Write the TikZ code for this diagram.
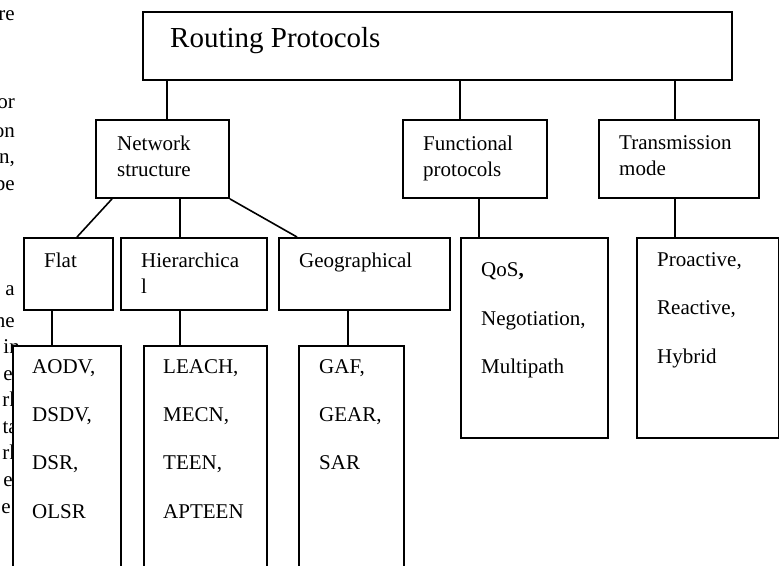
\documentclass[tikz,border=0pt]{standalone}
\usepackage{fontspec}
\setmainfont{Liberation Serif}
\begin{document}
\begin{tikzpicture}[x=1pt, y=-1pt,
    box/.style={draw, line width=1.9pt, fill=white, inner sep=0pt, anchor=north west},
    lbl/.style={inner sep=0pt, anchor=north west, align=left, font=\fontsize{21}{26}\selectfont},
    lst/.style={inner sep=0pt, anchor=north west, align=left, font=\fontsize{21}{48.3}\selectfont},
    bodytxt/.style={inner sep=0pt, anchor=base east, font=\fontsize{21}{26}\selectfont},
    link/.style={line width=1.6pt}]
    \useasboundingbox (0,0) rectangle (779,565);

    % text of the page behind the figure
    \node[bodytxt] (t1) at (15,20) {re};
    \node[bodytxt] (t2) at (15,108) {or};
    \node[bodytxt] (t3) at (15,137) {on};
    \node[bodytxt] (t4) at (15,163) {n,};
    \node[bodytxt] (t5) at (15,190) {be};
    \node[bodytxt] (t6) at (15,295) {a};
    \node[bodytxt] (t7) at (15,327) {he};
    \node[bodytxt] (t8) at (20,353) {in};
    \node[bodytxt] (t9) at (20,380) {er};
    \node[bodytxt] (t10) at (20,406) {rk};
    \node[bodytxt] (t11) at (18,433) {ta};
    \node[bodytxt] (t12) at (20,459) {rk};
    \node[bodytxt] (t13) at (20,486) {er};
    \node[bodytxt] (t14) at (11,513) {e};

    \node[box, minimum width=589, minimum height=68] (root) at (142,11) {};
    \node[inner sep=0pt, anchor=base west, font=\fontsize{29}{34}\selectfont]
        (rootT) at (170,47) {Routing Protocols};

    \node[box, minimum width=133, minimum height=78] (net) at (95,119) {};
    \node[box, minimum width=144, minimum height=78] (func) at (402,119) {};
    \node[box, minimum width=160, minimum height=78] (trans) at (598,119) {};
    \node[lbl] (netT) at (117,135.7) {Network\\structure};
    \node[lbl] (funcT) at (423,135.7) {Functional\\protocols};
    \node[lbl] (transT) at (619,135.7) {Transmission\\mode};

    \node[box, minimum width=89, minimum height=72] (flat) at (23,237) {};
    \node[box, minimum width=146, minimum height=72] (hier) at (120,237) {};
    \node[box, minimum width=171, minimum height=72] (geo) at (278,237) {};
    \node[lbl] (flatT) at (44,252.7) {Flat};
    \node[lbl] (hierT) at (141,252.7) {Hierarchica\\l};
    \node[lbl] (geoT) at (299,252.7) {Geographical};

    \node[box, minimum width=108, minimum height=260] (aodv) at (12,345) {};
    \node[box, minimum width=123, minimum height=260] (leach) at (143,345) {};
    \node[box, minimum width=105, minimum height=260] (gaf) at (298,345) {};
    \node[box, minimum width=147, minimum height=200] (qos) at (460,237) {};
    \node[box, minimum width=142, minimum height=200] (pro) at (636,237) {};
    \node[lst] (aodvT) at (32,359) {AODV,\\DSDV,\\DSR,\\OLSR};
    \node[lst] (leachT) at (163,359) {LEACH,\\MECN,\\TEEN,\\APTEEN};
    \node[lst] (gafT) at (319,359) {GAF,\\GEAR,\\SAR};
    \node[lst] (qosT) at (481,262.8) {QoS\textbf{,}\\Negotiation,\\Multipath};
    \node[lst] (proT) at (657,252.4) {Proactive,\\Reactive,\\Hybrid};

    \draw[link] ([xshift=25]root.south west) -- ([xshift=72]net.north west);
    \draw[link] ([xshift=318]root.south west) -- ([xshift=58]func.north west);
    \draw[link] ([xshift=533]root.south west) -- ([xshift=77]trans.north west);

    \draw[link] ([xshift=17]net.south west) -- ([xshift=54]flat.north west);
    \draw[link] ([xshift=85]net.south west) -- ([xshift=60]hier.north west);
    \draw[link] (net.south east) -- ([xshift=19]geo.north west);

    \draw[link] ([xshift=29]flat.south west) -- ([xshift=40]aodv.north west);
    \draw[link] ([xshift=60]hier.south west) -- ([xshift=37]leach.north west);
    \draw[link] ([xshift=70]geo.south west) -- ([xshift=50]gaf.north west);
    \draw[link] ([xshift=77]func.south west) -- ([xshift=19]qos.north west);
    \draw[link] ([xshift=77]trans.south west) -- ([xshift=39]pro.north west);
\end{tikzpicture}
\end{document}
